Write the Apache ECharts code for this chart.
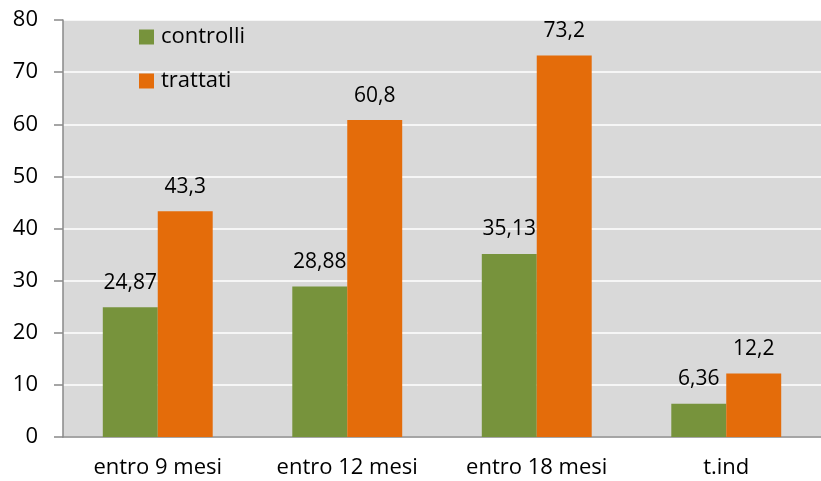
<!DOCTYPE html>
<html><head><meta charset="utf-8">
<script src="https://cdn.jsdelivr.net/npm/echarts@6/dist/echarts.min.js"></script>
<style>html,body{margin:0;padding:0;background:#fff}#c{width:821px;height:481px}</style>
</head><body><div id="c"></div>
<script>
const categories = ['entro 9 mesi', 'entro 12 mesi', 'entro 18 mesi', 't.ind'];
const controlli = [24.87, 28.88, 35.13, 6.36];
const trattati = [43.3, 60.8, 73.2, 12.2];
const yTicks = [0, 10, 20, 30, 40, 50, 60, 70, 80];

const FONT = 'Open Sans';
const chart = echarts.init(document.getElementById('c'));
const fmt = p => String(p.value).replace('.', ',');
chart.setOption({
  animation: false,
  textStyle: { fontFamily: FONT },
  grid: { left: 63, right: 0, top: 20, bottom: 44, show: true, backgroundColor: '#d9d9d9', borderWidth: 0 },
  legend: {
    orient: 'vertical', left: 134, top: 20, itemGap: 20,
    itemWidth: 15, itemHeight: 15, icon: 'rect',
    textStyle: { fontFamily: FONT, fontSize: 22, lineHeight: 24, color: '#000', padding: [0, 0, 0, 2] },
    data: ['controlli', 'trattati']
  },
  xAxis: {
    type: 'category', data: categories,
    axisLine: { lineStyle: { color: '#898989', width: 1.5 } },
    axisTick: { show: false },
    axisLabel: { fontFamily: FONT, fontSize: 22, color: '#000', margin: 20 }
  },
  yAxis: {
    type: 'value', min: yTicks[0], max: yTicks[yTicks.length - 1], interval: 10,
    axisLine: { show: true, lineStyle: { color: '#898989', width: 1.5 } },
    axisTick: { show: true, length: 9, lineStyle: { color: '#898989', width: 1.5 } },
    splitLine: { lineStyle: { color: '#ffffff', width: 1.5 } },
    axisLabel: { fontFamily: FONT, fontSize: 22, color: '#000', margin: 25 }
  },
  series: [
    { name: 'controlli', type: 'bar', data: controlli, barGap: '0%', barCategoryGap: '42%',
      itemStyle: { color: '#77933c' },
      label: { show: true, position: 'top', distance: 14, formatter: fmt, fontFamily: FONT, fontSize: 21, color: '#000' } },
    { name: 'trattati', type: 'bar', data: trattati, barGap: '0%', barCategoryGap: '42%',
      itemStyle: { color: '#e46c0a' },
      label: { show: true, position: 'top', distance: 14, formatter: fmt, fontFamily: FONT, fontSize: 21, color: '#000' } }
  ]
});
</script></body></html>
